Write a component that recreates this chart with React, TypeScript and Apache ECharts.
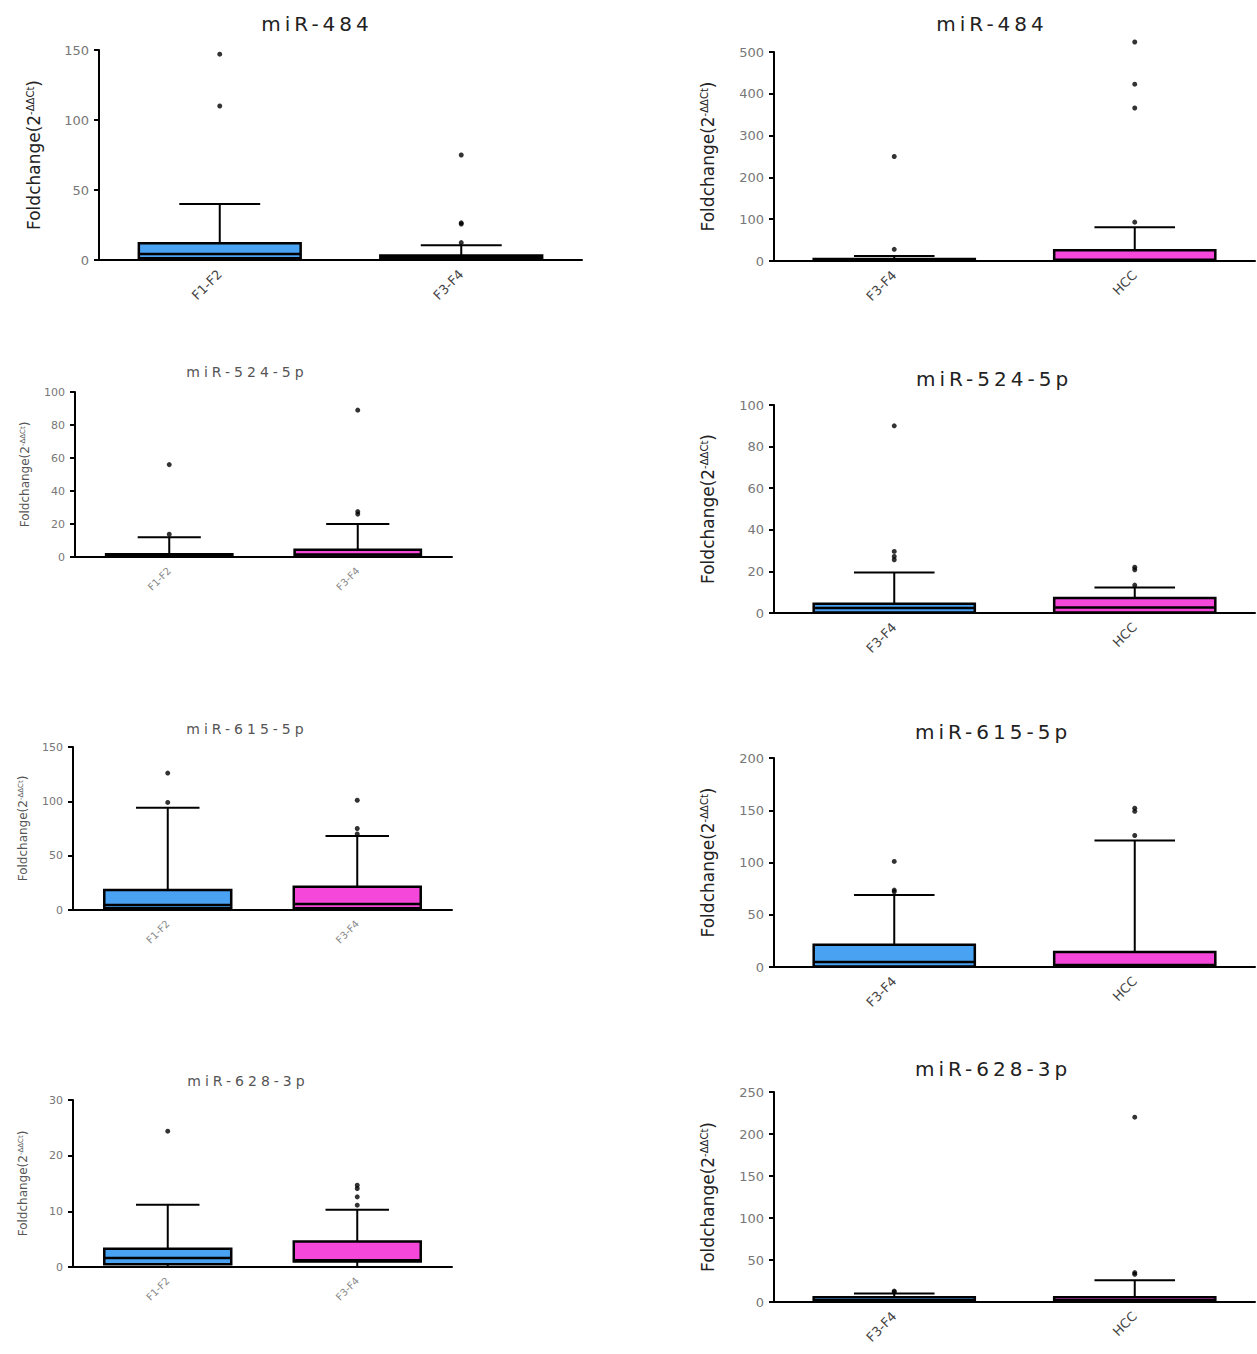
import React, { useEffect, useRef } from 'react';
import * as echarts from 'echarts';

const titles = ['miR-484', 'miR-484', 'miR-524-5p', 'miR-524-5p', 'miR-615-5p', 'miR-615-5p', 'miR-628-3p', 'miR-628-3p'];
const catsEarly = ['F1-F2', 'F3-F4'];
const catsLate = ['F3-F4', 'HCC'];
const yMax = [150, 500, 100, 100, 150, 200, 30, 250];
const yStep = [50, 100, 20, 20, 50, 50, 10, 50];

// box stats per category: [lower whisker, Q1, median, Q3, upper whisker]
const box484A = [[0, 1.2, 4.3, 11.9, 40], [0, 0.5, 1.9, 3.3, 10.5]];
const out484A = [[110, 147], [12.4, 25.7, 26.5, 75]];
const box484B = [[0, 0.5, 2, 5, 12], [0, 1, 3, 26, 81]];
const out484B = [[28, 250], [93, 366, 423, 524]];
const box524A = [[0, 0.2, 0.6, 1.6, 12], [0, 0.3, 1.5, 4.4, 20]];
const out524A = [[13.8, 56], [26, 27.5, 89]];
const box524B = [[0, 0.3, 2.4, 4.5, 19.5], [0, 0.3, 2.7, 7.2, 12.2]];
const out524B = [[25.6, 27.2, 29.6, 90], [13.4, 20.8, 22]];
const box615A = [[0, 1.5, 4.6, 18.3, 94], [0, 1.5, 5.5, 21.4, 68]];
const out615A = [[99, 126], [70, 75, 101]];
const box615B = [[0, 0.5, 4.8, 21.4, 69], [0, 0.6, 2, 14.4, 121]];
const out615B = [[72, 73.6, 101], [125.8, 149, 152]];
const box628A = [[0, 0.5, 1.6, 3.3, 11.2], [0, 1.0, 1.2, 4.6, 10.3]];
const out628A = [[24.4], [11.1, 12.6, 14.1, 14.7]];
const box628B = [[0, 0.5, 2, 5.7, 10], [0, 0.5, 2, 5.7, 26]];
const out628B = [[12, 13], [33, 35, 220]];

const boxes = [box484A, box484B, box524A, box524B, box615A, box615B, box628A, box628B];
const outliers = [out484A, out484B, out524A, out524B, out615A, out615B, out628A, out628B];

const BLUE = '#4aa2f2';
const PINK = '#f548da';
const FONT = 'DejaVu Sans';

const grids = [
  { left: 99, top: 50, width: 483, height: 210 },
  { left: 774, top: 52, width: 481, height: 209 },
  { left: 75, top: 392, width: 377, height: 165 },
  { left: 774, top: 405, width: 481, height: 208 },
  { left: 73, top: 747, width: 379, height: 163 },
  { left: 774, top: 758, width: 481, height: 209 },
  { left: 73, top: 1100, width: 379, height: 167 },
  { left: 774, top: 1092, width: 481, height: 210 },
];
const titlePos = [
  { x: 312, y: 9 }, { x: 987, y: 9 },
  { x: 242, y: 360 }, { x: 989, y: 364 },
  { x: 242, y: 717 }, { x: 988, y: 717 },
  { x: 243, y: 1069 }, { x: 988, y: 1054 },
];

function renderBox(params: any, api: any) {
  const idx = api.value(0);
  const lo = api.coord([idx, api.value(1)]);
  const q1 = api.coord([idx, api.value(2)]);
  const med = api.coord([idx, api.value(3)]);
  const q3 = api.coord([idx, api.value(4)]);
  const hi = api.coord([idx, api.value(5)]);
  const band = api.size([1, 0])[0];
  const bw = band * 0.67;
  const cw = bw / 2;
  const x = q1[0];
  const ls = { stroke: '#000', lineWidth: 2 };
  return {
    type: 'group',
    children: [
      { type: 'line', shape: { x1: x, y1: q3[1], x2: x, y2: hi[1] }, style: ls },
      { type: 'line', shape: { x1: x - cw / 2, y1: hi[1], x2: x + cw / 2, y2: hi[1] }, style: ls },
      { type: 'line', shape: { x1: x, y1: q1[1], x2: x, y2: lo[1] }, style: ls },
      {
        type: 'rect',
        shape: { x: x - bw / 2, y: q3[1], width: bw, height: q1[1] - q3[1] },
        style: { fill: idx === 0 ? BLUE : PINK, stroke: '#000', lineWidth: 2.5 },
      },
      { type: 'line', shape: { x1: x - bw / 2, y1: med[1], x2: x + bw / 2, y2: med[1] }, style: { stroke: '#000', lineWidth: 2.5 } },
    ],
  };
}

export default function App() {
  const ref = useRef<HTMLDivElement>(null);
  useEffect(() => {
    if (!ref.current) return;
    const chart = echarts.init(ref.current, null, { renderer: 'svg' });
    const title: any[] = [];
    const grid: any[] = [];
    const xAxis: any[] = [];
    const yAxis: any[] = [];
    const series: any[] = [];
    for (let i = 0; i < 8; i++) {
      const small = i % 2 === 0 && i > 0;
      const cats = i % 2 === 0 ? catsEarly : catsLate;
      title.push({
        text: titles[i],
        left: titlePos[i].x,
        top: titlePos[i].y,
        textAlign: 'center',
        textStyle: { fontFamily: FONT, fontWeight: 'normal', fontSize: small ? 14 : 20, color: small ? '#555' : '#222' },
      });
      grid.push({ ...grids[i], containLabel: false });
      xAxis.push({
        type: 'category',
        gridIndex: i,
        data: cats,
        axisLine: { lineStyle: { color: '#000', width: 2 } },
        axisTick: { alignWithLabel: true, length: 5, lineStyle: { color: '#000', width: 2 } },
        axisLabel: { rotate: 45, margin: 12, fontFamily: FONT, fontSize: small ? 10 : 13, color: small ? '#888' : '#444' },
        splitLine: { show: false },
      });
      yAxis.push({
        type: 'value',
        gridIndex: i,
        min: 0,
        max: yMax[i],
        interval: yStep[i],
        name: '{a|Foldchange(2}{sup|-ΔΔCt}{a|)}',
        nameLocation: 'middle',
        nameRotate: 90,
        nameGap: i % 2 === 1 ? 58 : small ? 44 : 57,
        nameTextStyle: {
          rich: {
            a: { fontFamily: FONT, fontSize: small ? 12 : 17, color: small ? '#555' : '#222' },
            sup: { fontFamily: FONT, fontSize: small ? 7 : 10, color: small ? '#555' : '#222', verticalAlign: 'top' },
          },
        },
        axisLine: { show: true, lineStyle: { color: '#000', width: 2 } },
        axisTick: { show: true, length: 5, lineStyle: { color: '#000', width: 2 } },
        axisLabel: { margin: 10, fontFamily: FONT, fontSize: small ? 11 : 13, color: '#777' },
        splitLine: { show: false },
      });
      series.push({
        type: 'custom',
        xAxisIndex: i,
        yAxisIndex: i,
        renderItem: renderBox,
        encode: { x: 0, y: [1, 2, 3, 4, 5] },
        data: boxes[i].map((b, k) => [k, ...b]),
        clip: false,
        z: 2,
      });
      const pts: number[][] = [];
      outliers[i].forEach((arr, k) => arr.forEach((v) => pts.push([k, v])));
      series.push({
        type: 'scatter',
        xAxisIndex: i,
        yAxisIndex: i,
        data: pts,
        symbol: 'circle',
        symbolSize: 5,
        clip: false,
        itemStyle: { color: '#000' },
        z: 3,
      });
    }
    chart.setOption({ animation: false, backgroundColor: '#fff', title, grid, xAxis, yAxis, series });
    // widen title letter spacing to match the spaced-out look of the reference
    const texts = ref.current.querySelectorAll('text');
    texts.forEach((t) => {
      if (titles.indexOf((t.textContent || '').trim()) >= 0) {
        t.setAttribute('letter-spacing', '4');
      }
    });
    return () => chart.dispose();
  }, []);
  return <div ref={ref} style={{ position: 'absolute', left: 0, top: 0, width: 1257, height: 1354 }} />;
}
